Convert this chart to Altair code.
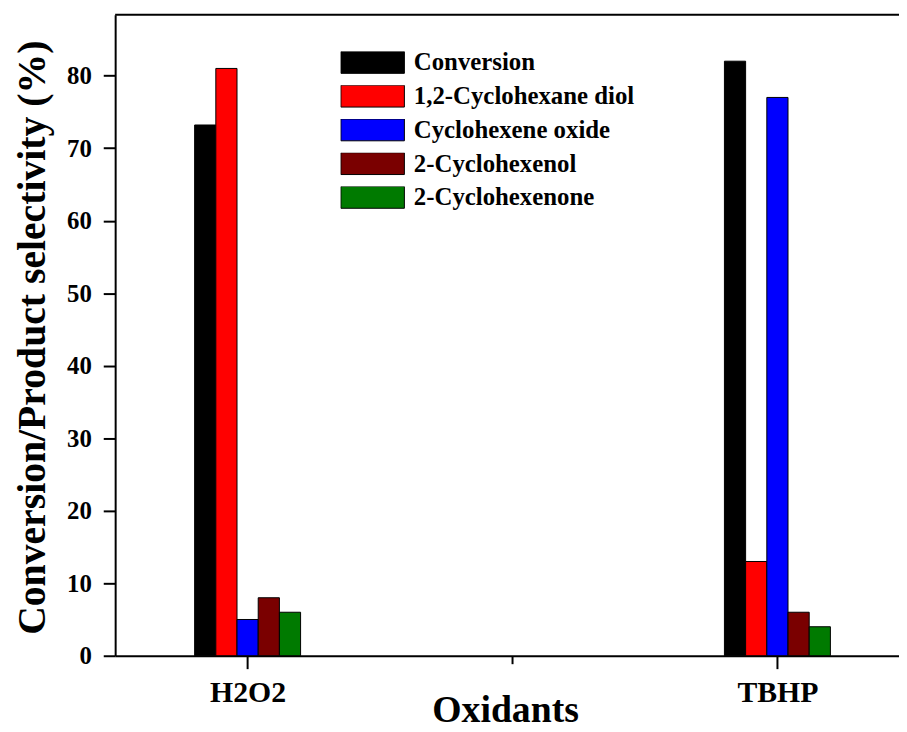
import altair as alt
import pandas as pd

oxidants = ["H2O2", "TBHP"]
series = ["Conversion", "1,2-Cyclohexane diol", "Cyclohexene oxide",
          "2-Cyclohexenol", "2-Cyclohexenone"]
h2o2_values = [73.2, 81, 5, 8, 6]
tbhp_values = [82, 13, 77, 6, 4]
colors = ["#000000", "#ff0000", "#0000ff", "#7a0000", "#007a00"]

rows = []
for oi, (ox, vals) in enumerate(zip(oxidants, [h2o2_values, tbhp_values])):
    for si, (s, v) in enumerate(zip(series, vals)):
        rows.append({"oxidant": ox, "opos": 1 + 2 * oi, "series": s,
                     "sidx": si, "value": v})
df = pd.DataFrame(rows)

BW = 0.08
FONT = "Liberation Serif"
YMAX = 88.4

xscale = alt.Scale(domain=[0.5, 3.459], nice=False, zero=False)
yscale = alt.Scale(domain=[0, YMAX], nice=False)

x_label_expr = (f"datum.value == 1 ? '{oxidants[0]}' : "
                f"datum.value == 3 ? '{oxidants[1]}' : ''")

bars = alt.Chart(df).transform_calculate(
    x0=f"datum.opos + (datum.sidx - 2.5) * {BW}",
    x1=f"datum.opos + (datum.sidx - 1.5) * {BW}",
).mark_bar(stroke="black", strokeWidth=1, opacity=1).encode(
    x=alt.X("x0:Q", scale=xscale,
            axis=alt.Axis(values=[1, 2, 3], labelExpr=x_label_expr,
                          tickSize={"condition": {"test": "datum.value == 2", "value": 8}, "value": 13},
                          labelFont=FONT, labelFontSize=30, labelFontWeight="bold",
                          labelColor="black", labelBaseline="alphabetic",
                          labelPadding=33, labelFlush=False,
                          domainColor="black", domainWidth=2,
                          tickColor="black", tickWidth=2, grid=False,
                          title="Oxidants", titleFont=FONT, titleFontSize=38,
                          titleFontWeight="bold", titleColor="black",
                          titleX=393, titleY=66, titleAlign="center",
                          titleBaseline="alphabetic")),
    x2="x1:Q",
    y=alt.Y("value:Q", scale=yscale,
            axis=alt.Axis(values=list(range(0, 90, 5)),
                          labelExpr="datum.value % 10 === 0 ? datum.label : ''",
                          tickSize={"condition": {"test": "datum.value % 10 === 0", "value": 12}, "value": 9},
                          labelFont=FONT, labelFontSize=25, labelFontWeight="bold",
                          labelColor="black", labelPadding=12, labelFlush=False,
                          domainColor="black", domainWidth=2,
                          tickColor="black", tickWidth=2, grid=False,
                          title="Conversion/Product selectivity (%)",
                          titleFont=FONT, titleFontSize=40, titleFontWeight="bold",
                          titleColor="black", titleX=-71, titleY=325,
                          titleAngle=270, titleAlign="center",
                          titleBaseline="alphabetic")),
    y2=alt.datum(0),
    color=alt.Color("series:N", scale=alt.Scale(domain=series, range=colors),
                    legend=alt.Legend(title=None, orient="none", legendX=227, legendY=37,
                                      symbolType="M-1,-0.344L1,-0.344L1,0.344L-1,0.344Z",
                                      symbolSize=4096, symbolStrokeColor="black",
                                      symbolStrokeWidth=1, symbolOpacity=1,
                                      labelFont=FONT, labelFontSize=25,
                                      labelFontWeight="bold", labelColor="black",
                                      labelOffset=9, clipHeight=22, rowPadding=9,
                                      labelLimit=400)),
)

top_frame = alt.Chart(pd.DataFrame({"y": [YMAX]})).mark_rule(
    color="black", strokeWidth=2).encode(y=alt.Y("y:Q", scale=yscale))

chart = alt.layer(bars, top_frame).properties(
    width=790, height=646,
    autosize=alt.AutoSizeParams(type="none"),
    padding={"left": 108, "top": 4, "right": 0, "bottom": 72},
).configure_view(stroke=None)

chart.save("out.html", embed_options={"renderer": "svg", "actions": False})
